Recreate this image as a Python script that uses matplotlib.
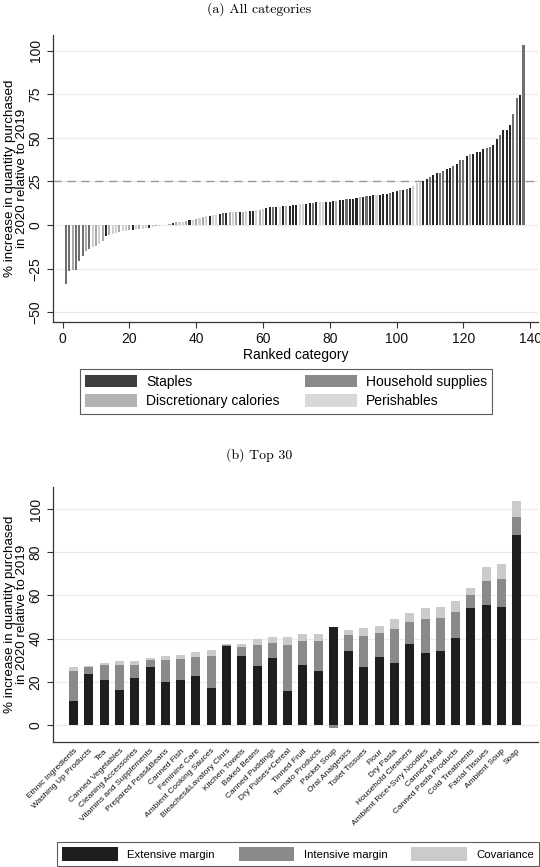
import numpy as np
import matplotlib
matplotlib.use("Agg")
import matplotlib.pyplot as plt
from matplotlib.patches import Patch

# ---------------- Panel (a) data: all categories, ranked ----------------
rank_values = [
    -34, -26.5, -26, -26, -20.5, -18, -15, -14, -12.5, -12,
    -11, -9, -6.5, -5.5, -5, -4.3, -3.8, -3.5, -3.2, -3,
    -2.7, -2.5, -2.2, -2, -1.8, -1.5, -1.2, -0.8, -0.5, -0.2,
    0.3, 0.6, 1.0, 1.5, 1.8, 2.0, 2.3, 2.8, 3.0, 3.3,
    3.8, 4.5, 5.0, 5.3, 5.6, 6.0, 6.4, 7.0, 7.2, 7.3,
    7.4, 7.5, 7.6, 7.7, 7.8, 8.0, 8.3, 8.5, 8.7, 9.0,
    10.0, 10.2, 10.3, 10.5, 10.6, 10.8, 11.0, 11.2, 11.4, 11.6,
    11.8, 12.0, 12.3, 12.5, 12.8, 13.0, 13.1, 13.2, 13.3, 13.5,
    13.8, 14.0, 14.3, 14.5, 14.7, 14.8, 15.0, 15.8, 16.0, 16.2,
    16.4, 16.6, 17.0, 17.3, 17.5, 17.7, 18.0, 18.5, 19.0, 19.5,
    20.0, 20.3, 20.8, 21.5, 22.5, 24.0, 24.5, 25.0,
    26.7, 27.3, 28.9, 29.6, 29.8, 31.0, 32.1, 32.6, 33.6, 34.9,
    37.3, 37.5, 39.8, 40.6, 40.8, 42.0, 42.1, 43.9, 44.1, 44.9,
    46.0, 49.1, 51.7, 54.3, 54.6, 57.4, 63.6, 73.1, 74.5, 103.5,
]
# S = Staples, H = Household supplies, D = Discretionary calories, P = Perishables
rank_groups = list(
    "HHDHHHDHPD" "PDSDPPDPPD" "SPDPPSPDPD" "PDSDPPDSPD" "PDPSPPSHSD"
    "PDSDPSSPDP" "SSHSPSDSSS" "PPSSHSPPSS" "SDSSHSSSDS" "HSSPSSSHSS"
    "DSHSPPPS"
    "SHSSHHSSHS" "HHSDSSSSHH" "SSHSSSHHSH"
)
# legend order (column-major: Staples, Discretionary | Household, Perishables)
group_names = ["Staples", "Discretionary calories", "Household supplies", "Perishables"]
group_codes = ["S", "D", "H", "P"]

# ---------------- Panel (b) data: top 30 decomposition ----------------
top_categories = [
    "Ethnic Ingredients", "Washing Up Products", "Tea", "Canned Vegetables",
    "Cleaning Accessories", "Vitamins and Supplements", "Prepared Peas&Beans",
    "Canned Fish", "Feminine Care", "Ambient Cooking Sauces",
    "Bleaches&Lavatory Clnrs", "Kitchen Towels", "Baked Beans", "Canned Puddings",
    "Dry Pulses+Cereal", "Tinned Fruit", "Tomato Products", "Packet Soup",
    "Oral Analgesics", "Toilet Tissues", "Flour", "Dry Pasta", "Household Cleaners",
    "Ambient Rice+Svry Noodles", "Canned Meat", "Canned Pasta Products",
    "Cold Treatments", "Facial Tissues", "Ambient Soup", "Soap",
]
extensive = [11.3, 23.6, 20.8, 16.0, 21.6, 27.0, 19.9, 20.8, 22.5, 17.1,
             36.4, 31.8, 27.3, 30.9, 15.6, 27.9, 25.2, 45.4, 34.1, 26.7,
             31.5, 28.9, 37.5, 33.3, 34.3, 40.1, 54.0, 55.4, 54.8, 88.1]
intensive = [13.9, 3.1, 6.8, 11.8, 6.3, 2.9, 10.2, 9.6, 9.0, 15.0,
             0.6, 4.2, 9.7, 7.2, 21.6, 11.0, 13.5, -1.5, 7.6, 14.5,
             10.9, 15.7, 10.3, 15.6, 15.2, 12.4, 6.2, 11.4, 12.8, 8.2]
covariance = [1.5, 0.6, 1.3, 1.8, 1.9, 1.1, 2.0, 2.2, 2.1, 2.8,
              0.3, 1.5, 2.8, 2.5, 3.4, 3.1, 3.4, 0.0, 2.4, 3.7,
              3.6, 4.5, 3.9, 5.4, 5.1, 4.9, 3.4, 6.3, 6.9, 7.2]
component_names = ["Extensive margin", "Intensive margin", "Covariance"]

# ---------------- Styling ----------------
plt.rcParams["font.family"] = ["Liberation Sans", "DejaVu Sans"]
group_colors = {"S": "#282828", "H": "#707070", "D": "#a9a9a9", "P": "#d0d0d0"}
legend_colors = {"S": "#3e3e3e", "H": "#8a8a8a", "D": "#b3b3b3", "P": "#d8d8d8"}
comp_colors = ["#1e1e1e", "#8a8a8a", "#cbcbcb"]
spine_col = "#333333"
ylab = "% increase in quantity purchased\nin 2020 relative to 2019"

fig = plt.figure(figsize=(5.40, 8.67), dpi=100)


def style_axes(ax):
    for s in ["top", "right"]:
        ax.spines[s].set_visible(False)
    for s in ["left", "bottom"]:
        ax.spines[s].set_color(spine_col)
        ax.spines[s].set_linewidth(0.9)
    ax.tick_params(axis="both", direction="out", length=4, width=0.8,
                   color=spine_col, labelsize=10, labelcolor="#111111")
    ax.yaxis.grid(True, color="#ebebeb", linewidth=0.8)
    ax.set_axisbelow(True)
    for lab in ax.get_yticklabels():
        lab.set_rotation(90)
        lab.set_va("center")


def add_ylabel(ax):
    ax.set_ylabel(ylab, fontsize=9.6, linespacing=0.95)
    ax.yaxis.set_label_coords(-0.052, 0.5)


# ---------------- Panel (a) ----------------
ax1 = fig.add_axes([0.098, 0.6286, 0.898, 0.331])
ranks = np.arange(1, len(rank_values) + 1)
vals = np.array(rank_values)
cols = [group_colors[g] for g in rank_groups]
ax1.bar(ranks, vals, width=0.62, color=cols, linewidth=0, zorder=2)
ax1.axhline(25, color="#9a9a9a", linewidth=1.0, linestyle=(0, (6, 4)), zorder=1)
ax1.set_xlim(-2.9, 142.3)
ax1.set_ylim(-55.6, 109)
ax1.set_yticks([-50, -25, 0, 25, 50, 75, 100])
ax1.set_xticks([0, 20, 40, 60, 80, 100, 120, 140])
style_axes(ax1)
ax1.set_xlabel("Ranked category", fontsize=10, labelpad=1)
add_ylabel(ax1)
fig.text(0.48, 0.997, "(a) All categories", family="cmr10", fontsize=10,
         ha="center", va="top")

handles1 = [Patch(facecolor=legend_colors[c], edgecolor="none") for c in group_codes]
leg1 = fig.legend(handles1, group_names, ncol=2, loc="center",
                  bbox_to_anchor=(0.5296, 0.5484), fontsize=10, frameon=True,
                  fancybox=False, edgecolor="#333333", handlelength=3.75,
                  handleheight=1.0, handletextpad=0.65, columnspacing=1.8,
                  labelspacing=0.4, borderpad=0.4)
leg1.get_frame().set_linewidth(0.8)

fig.text(0.48, 0.4745, "(b) Top 30", family="cmr10", fontsize=10,
         ha="center", va="center")

# ---------------- Panel (b) ----------------
ax2 = fig.add_axes([0.098, 0.1442, 0.898, 0.2941])
x = np.arange(len(top_categories))
comps = [np.array(extensive), np.array(intensive), np.array(covariance)]
pos_base = np.zeros(len(x))
neg_base = np.zeros(len(x))
for comp, colr in zip(comps, comp_colors):
    bottoms = np.where(comp >= 0, pos_base, neg_base)
    ax2.bar(x, comp, bottom=bottoms, width=0.59, color=colr, linewidth=0, zorder=2)
    pos_base = pos_base + np.clip(comp, 0, None)
    neg_base = neg_base + np.clip(comp, None, 0)
ax2.set_xlim(-1.36, 30.38)
ax2.set_ylim(-7.9, 110.2)
ax2.set_yticks([0, 20, 40, 60, 80, 100])
ax2.set_xticks(x)
style_axes(ax2)
ax2.set_xticklabels(top_categories, rotation=45, ha="right",
                    rotation_mode="anchor", fontsize=6.0)
ax2.tick_params(axis="x", length=0, pad=4)
add_ylabel(ax2)

handles2 = [Patch(facecolor=c, edgecolor="none") for c in comp_colors]
leg2 = fig.legend(handles2, component_names, ncol=3, loc="center",
                  bbox_to_anchor=(0.552, 0.0150), fontsize=8.2, frameon=True,
                  fancybox=False, edgecolor="#333333", handlelength=4.9,
                  handleheight=1.4, handletextpad=0.8, columnspacing=2.1,
                  borderpad=0.45)
leg2.get_frame().set_linewidth(0.8)

fig.savefig("out.png", dpi=100)
